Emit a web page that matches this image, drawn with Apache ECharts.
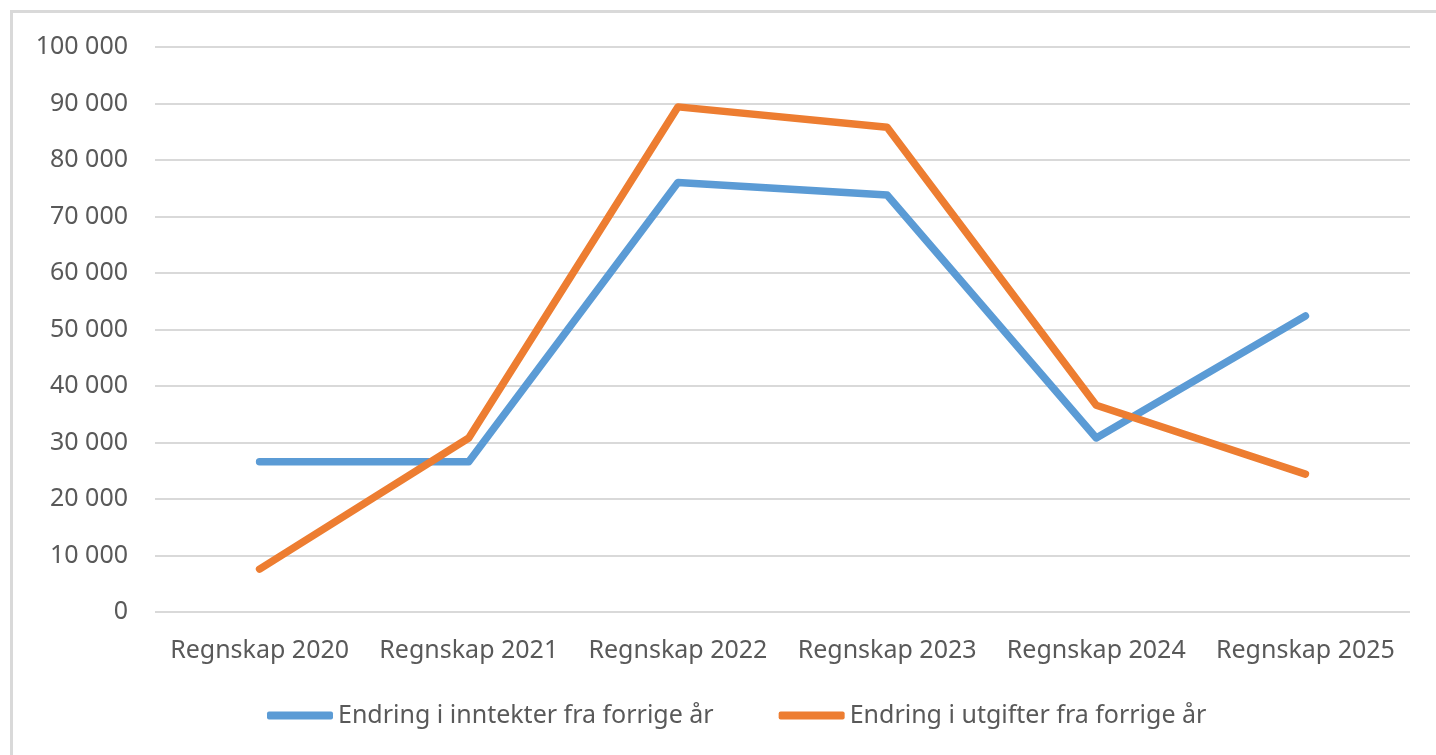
<!DOCTYPE html>
<html>
<head>
<meta charset="utf-8">
<script src="https://cdn.jsdelivr.net/npm/echarts@6/dist/echarts.min.js"></script>
<style>
  html, body { margin: 0; padding: 0; background: #fff; }
  #frame { position: absolute; left: 10px; top: 10px; width: 1440px; height: 760px; border: 3px solid #d9d9d9; box-sizing: border-box; }
  #chart { position: absolute; left: 0; top: 0; width: 1436px; height: 755px; }
</style>
</head>
<body>
<div id="frame"></div>
<div id="chart"></div>
<script>
var categories = ['Regnskap 2020', 'Regnskap 2021', 'Regnskap 2022', 'Regnskap 2023', 'Regnskap 2024', 'Regnskap 2025'];
var inntekter = [26600, 26600, 76000, 73800, 30800, 52400];
var utgifter = [7600, 30800, 89400, 85800, 36600, 24400];
var seriesNames = ['Endring i inntekter fra forrige år', 'Endring i utgifter fra forrige år'];

var FONT = "'Noto Sans', sans-serif";

function fmt(v) {
    return String(v).replace(/\B(?=(\d{3})+(?!\d))/g, ' ');
}

var chart = echarts.init(document.getElementById('chart'));
var option = {
    animation: false,
    grid: { left: 155, right: 26, top: 47, bottom: 143 },
    legend: {
        bottom: 22,
        left: 262,
        itemWidth: 66,
        itemHeight: 8,
        itemGap: 65,
        icon: 'roundRect',
        textStyle: { fontFamily: FONT, fontSize: 25, color: '#595959' },
        data: seriesNames
    },
    xAxis: {
        type: 'category',
        data: categories,
        boundaryGap: true,
        axisLine: { show: false },
        axisTick: { show: false },
        axisLabel: { interval: 0, margin: 26, fontFamily: FONT, fontSize: 25, color: '#595959' }
    },
    yAxis: {
        type: 'value',
        min: 0,
        max: 100000,
        interval: 10000,
        axisLine: { show: false },
        axisTick: { show: false },
        splitLine: { lineStyle: { color: '#d9d9d9', width: 2 } },
        axisLabel: { margin: 27, fontFamily: FONT, fontSize: 25, color: '#595959', formatter: fmt }
    },
    series: [
        {
            name: seriesNames[0],
            type: 'line',
            data: inntekter,
            symbol: 'none',
            lineStyle: { color: '#5b9bd5', width: 7.5, cap: 'round', join: 'round' },
            itemStyle: { color: '#5b9bd5' }
        },
        {
            name: seriesNames[1],
            type: 'line',
            data: utgifter,
            symbol: 'none',
            lineStyle: { color: '#ed7d31', width: 7.5, cap: 'round', join: 'round' },
            itemStyle: { color: '#ed7d31' }
        }
    ]
};
chart.setOption(option);
</script>
</body>
</html>
